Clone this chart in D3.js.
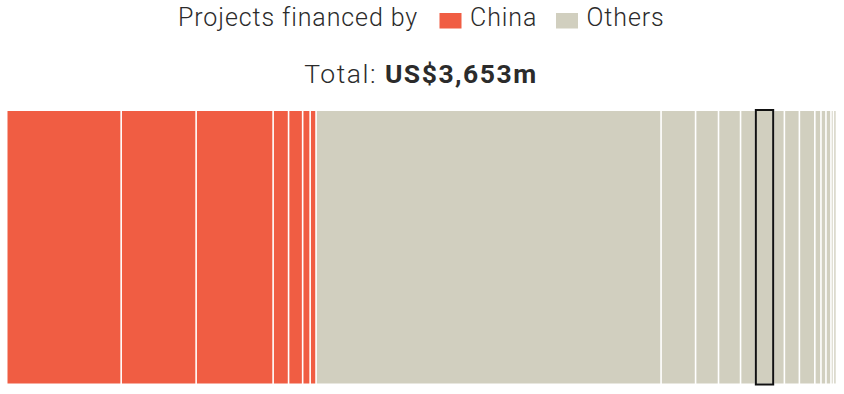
<!DOCTYPE html>
<html>
<head>
<meta charset="utf-8">
<script src="https://cdn.jsdelivr.net/npm/d3@7"></script>
<style>
  body { margin: 0; background: #fff; }
  text { font-family: Roboto, "Open Sans", sans-serif; fill: #2b2b2b; }
</style>
</head>
<body>
<div id="chart"></div>
<script>
(function() {
    "use strict";

    // amounts in US$m
    var chinaValues = [504, 330, 339, 68, 62, 33, 26];
    var otherValues = [1519, 152, 101, 97, 66, 79, 48, 66, 68, 27, 22, 22, 11, 13];
    var groups = ["China", "Others"];
    var colors = ["#f05d43", "#d1cfbf"];
    var highlightIndex = 5; // outlined project among "Others"
    var totalLabel = "US$3,653m";

    var width = 844, height = 394;
    var svg = d3.select("#chart").append("svg")
        .attr("width", width).attr("height", height);

    // flatten into one list of segments with running start
    var segments = [];
    var cum = 0;
    [chinaValues, otherValues].forEach(function(vals, g) {
        vals.forEach(function(v, i) {
            segments.push({ group: g, index: i, value: v, start: cum });
            cum += v;
        });
    });

    var x = d3.scaleLinear().domain([0, cum]).range([7.5, 837.2]);
    var barTop = 111, barBottom = 383.5;
    var gap = 1.6;

    var bars = svg.append("g");
    bars.selectAll("rect")
        .data(segments)
        .enter().append("rect")
        .attr("x", function(d) { return x(d.start); })
        .attr("y", barTop)
        .attr("width", function(d) { return Math.max(0.5, x(d.start + d.value) - x(d.start) - gap); })
        .attr("height", barBottom - barTop)
        .attr("fill", function(d) { return colors[d.group]; });

    var hl = segments.filter(function(d) { return d.group === 1 && d.index === highlightIndex; })[0];
    svg.append("rect")
        .attr("x", x(hl.start) - 0.5)
        .attr("y", barTop - 1)
        .attr("width", x(hl.start + hl.value) - x(hl.start) - gap + 1)
        .attr("height", barBottom - barTop + 2)
        .attr("fill", "none")
        .attr("stroke", "#111")
        .attr("stroke-width", 2);

    // legend line
    var legend = svg.append("g");
    legend.append("text")
        .attr("x", 178).attr("y", 26)
        .attr("font-size", 25).attr("font-weight", 300)
        .attr("letter-spacing", 0.9)
        .text("Projects financed by");
    var legendX = [439.5, 556];
    groups.forEach(function(name, i) {
        legend.append("rect")
            .attr("x", legendX[i]).attr("y", 13)
            .attr("width", 22).attr("height", 15.5)
            .attr("fill", colors[i]);
        legend.append("text")
            .attr("x", legendX[i] + 30.5).attr("y", 26)
            .attr("font-size", 25).attr("font-weight", 300)
            .attr("letter-spacing", 0.9)
            .text(name);
    });

    var total = svg.append("text")
        .attr("x", 421).attr("y", 83)
        .attr("text-anchor", "middle")
        .attr("font-size", 26.5)
        .attr("letter-spacing", 1.5);
    total.append("tspan").attr("font-weight", 300).text("Total: ");
    total.append("tspan").attr("font-weight", 700).text(totalLabel);
}());
</script>
</body>
</html>
